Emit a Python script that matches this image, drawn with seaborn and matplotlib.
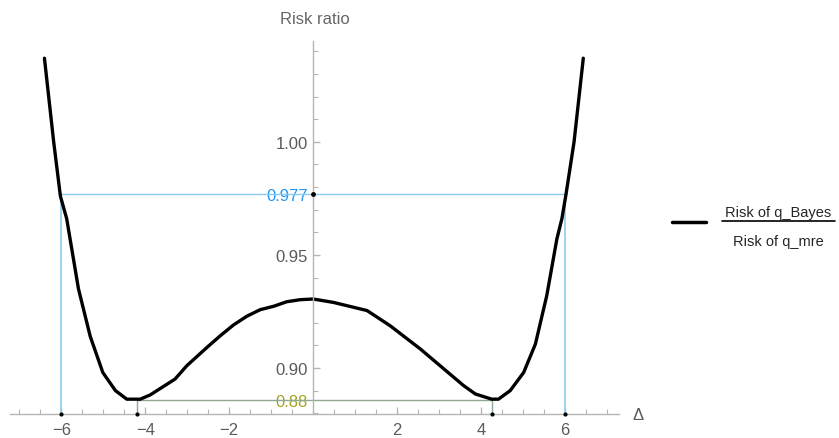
import matplotlib
matplotlib.use('Agg')
import matplotlib.pyplot as plt
from matplotlib.lines import Line2D
from matplotlib.ticker import MultipleLocator
import pandas as pd
import seaborn as sns

# Risk ratio curve
delta = [-6.40, -6.18, -6.02, -5.87, -5.59, -5.31, -5.01, -4.71, -4.44, -4.12,
         -3.88, -3.56, -3.29, -3.01, -2.53, -2.21, -1.90, -1.58, -1.26, -0.94,
         -0.63, -0.31, 0.00, 0.48, 1.28, 1.83, 2.55, 3.02, 3.58, 3.86,
         4.25, 4.41, 4.69, 5.01, 5.29, 5.56, 5.80, 5.92, 6.02, 6.21, 6.43]
ratio = [1.037, 1.000, 0.976, 0.966, 0.935, 0.914, 0.898, 0.890, 0.8862, 0.8862,
         0.8881, 0.8919, 0.8951, 0.9010, 0.9091, 0.9143, 0.9190, 0.9229, 0.9258, 0.9273,
         0.9293, 0.9302, 0.9305, 0.9290, 0.9254, 0.9187, 0.9084, 0.9010, 0.8922, 0.8885,
         0.8862, 0.8862, 0.8900, 0.8980, 0.9106, 0.9320, 0.9570, 0.9660, 0.9770, 1.000, 1.037]

# reference lines
level_hi = 0.977
delta_hi = [-6.0, 6.0]
level_lo = 0.8857
delta_lo = [-4.19, 4.25]

y_ticks = [level_lo, 0.90, 0.95, level_hi, 1.00]
y_labels = ['0.88', '0.90', '0.95', '0.977', '1.00']
x_ticks = [-6, -4, -2, 2, 4, 6]

df = pd.DataFrame({'delta': delta, 'ratio': ratio})

sns.set_style('white')
plt.rcParams['font.family'] = ['Liberation Sans', 'DejaVu Sans']

fig = plt.figure(figsize=(8.39, 4.39), dpi=100)
ax = fig.add_axes([10 / 839, 1 - 415.1 / 439, 609 / 839, 373.3 / 439])

blue = '#8ccbef'
green = '#8fa88f'
ybot = 0.8796

ax.plot(delta_hi, [level_hi, level_hi], color=blue, lw=1)
for d in delta_hi:
    ax.plot([d, d], [ybot, level_hi], color=blue, lw=1.2)
ax.plot(delta_lo, [level_lo, level_lo], color=green, lw=1)
for d in delta_lo:
    ax.plot([d, d], [ybot, level_lo], color=green, lw=1)

sns.lineplot(data=df, x='delta', y='ratio', color='black', lw=2.4, ax=ax, sort=False)

# small dots where the lines meet the axes
ax.plot(delta_hi + delta_lo, [ybot] * 4, 'o', color='black', ms=2, clip_on=False, zorder=5)
ax.plot([0], [level_hi], 'o', color='black', ms=2.5, clip_on=False, zorder=5)

ax.set_xlim(-7.22, 7.28)
ax.set_ylim(ybot, 1.0447)

for s in ['top', 'right']:
    ax.spines[s].set_visible(False)
ax.spines['left'].set_position(('data', 0))
for s in ['left', 'bottom']:
    ax.spines[s].set_color('#b5b5b5')
    ax.spines[s].set_linewidth(1)

ax.set_xticks(x_ticks)
ax.set_yticks(y_ticks)
ax.set_yticklabels(y_labels)
ax.xaxis.set_minor_locator(MultipleLocator(0.5))
ax.yaxis.set_minor_locator(MultipleLocator(0.01))
ax.tick_params(which='both', direction='in', color='#b5b5b5', labelcolor='#5a5a5a',
               labelsize=12, bottom=True, left=True, top=False, right=False)
ax.tick_params(which='major', length=5, width=1)
ax.tick_params(which='minor', length=3.5, width=0.8)
ax.tick_params(axis='x', pad=6)
ax.tick_params(axis='y', pad=4)

yt = ax.yaxis.get_major_ticks()
for i in (0, 3):
    yt[i].tick1line.set_visible(False)
labs = ax.get_yticklabels()
labs[0].set_color('#a3a321')
labs[3].set_color('#2196f3')

ax.set_xlabel('')
ax.set_ylabel('')
ax.set_title('Risk ratio', fontsize=12, color='#666666', pad=13)
ax.annotate('Δ', xy=(1, 0), xycoords='axes fraction', xytext=(19, 0),
            textcoords='offset pixels', ha='center', va='center',
            fontsize=12, color='#5a5a5a')

# legend drawn as a fraction
fig.add_artist(Line2D([672 / 839, 706 / 839], [1 - 223 / 439] * 2, color='black', lw=2.5))
fig.add_artist(Line2D([722 / 839, 835 / 839], [1 - 222 / 439] * 2, color='black', lw=1.2))
fig.text(778 / 839, 1 - 213 / 439, 'Risk of q_Bayes', ha='center', va='center', fontsize=10.5)
fig.text(778 / 839, 1 - 242 / 439, 'Risk of q_mre', ha='center', va='center', fontsize=10.5)

fig.savefig('out.png', dpi=100)
